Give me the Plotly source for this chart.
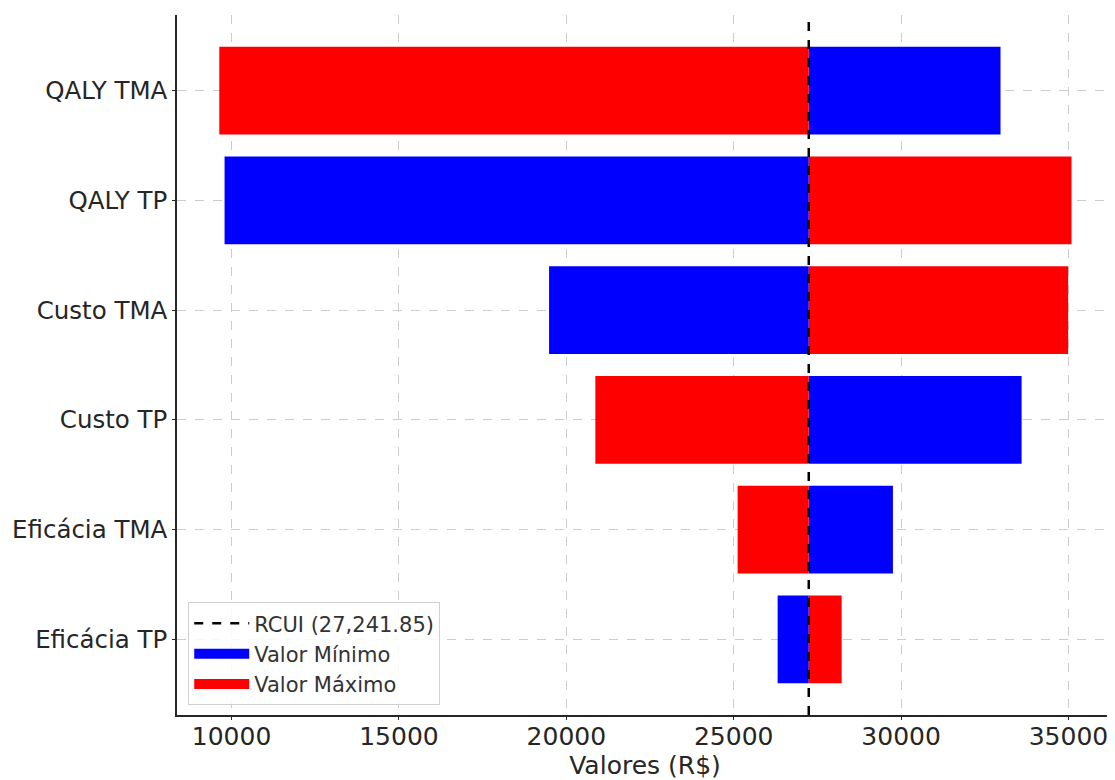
import plotly.graph_objects as go

categories = ["QALY TMA", "QALY TP", "Custo TMA", "Custo TP", "Eficácia TMA", "Eficácia TP"]
valor_minimo = [32970, 9791, 19484, 33600, 29756, 26312]
valor_maximo = [9633, 35091, 34990, 20867, 25117, 28224]
rcui = 27241.85
x_ticks = [10000, 15000, 20000, 25000, 30000, 35000]

FONT = "DejaVu Sans, sans-serif"

fig = go.Figure()

fig.add_trace(go.Scatter(
    x=[rcui, rcui], y=[-0.69, 5.69], mode="lines", yaxis="y2",
    line=dict(color="black", width=2.5, dash="dash"),
    name="RCUI (27,241.85)", showlegend=True,
))
fig.add_trace(go.Bar(
    y=categories, x=[v - rcui for v in valor_minimo], base=rcui,
    orientation="h", width=0.8, marker=dict(color="blue", line=dict(width=0)),
    name="Valor Mínimo", showlegend=False,
))
fig.add_trace(go.Bar(
    y=categories, x=[v - rcui for v in valor_maximo], base=rcui,
    orientation="h", width=0.8, marker=dict(color="red", line=dict(width=0)),
    name="Valor Máximo", showlegend=False,
))
# legend proxies (wide rectangles like the reference)
fig.add_trace(go.Scatter(x=[None], y=[None], mode="lines", yaxis="y2",
                         line=dict(color="blue", width=15), name="Valor Mínimo"))
fig.add_trace(go.Scatter(x=[None], y=[None], mode="lines", yaxis="y2",
                         line=dict(color="red", width=15), name="Valor Máximo"))

grid = dict(showgrid=True, gridcolor="#cccccc", griddash="dash", gridwidth=1)

fig.update_layout(
    width=1107, height=772,
    margin=dict(l=169, r=2, t=7, b=65),
    plot_bgcolor="white", paper_bgcolor="white",
    barmode="overlay",
    font=dict(family=FONT, size=24, color="#262626"),
    xaxis=dict(
        range=[8370, 36330], tickvals=x_ticks, ticktext=[str(t) for t in x_ticks],
        showline=True, linecolor="#262626", linewidth=1.5, ticks="outside", ticklen=3,
        tickcolor="#262626", zeroline=False, automargin=False,
        tickfont=dict(size=25), ticklabelstandoff=-5,
        title=dict(text="Valores (R$)", font=dict(size=25), standoff=13),
        **grid,
    ),
    yaxis=dict(
        type="category", categoryarray=categories[::-1], range=[-0.69, 5.69],
        showline=True, linecolor="#262626", linewidth=1.5, ticks="outside", ticklen=3,
        tickcolor="#262626", zeroline=False, ticklabelstandoff=0, automargin=False,
        tickfont=dict(size=24.5),
        **grid,
    ),
    yaxis2=dict(overlaying="y", range=[-0.69, 5.69], visible=False, showgrid=False),
    legend=dict(
        x=0.012, y=0.014, xanchor="left", yanchor="bottom",
        bgcolor="rgba(255,255,255,0.85)", bordercolor="#d0d0d0", borderwidth=1,
        font=dict(size=21, color="#333333"), traceorder="normal",
        itemwidth=55, tracegroupgap=0,
    ),
)

fig.write_html("out.html")
